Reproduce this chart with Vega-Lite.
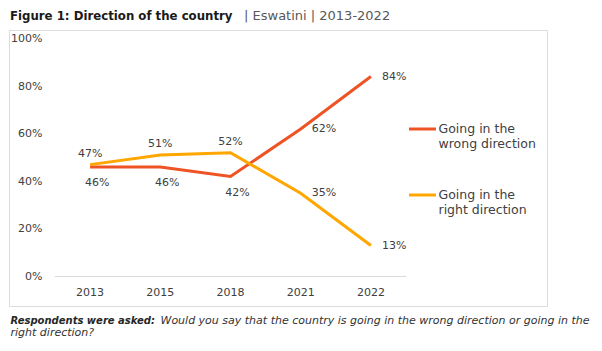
{
  "$schema": "https://vega.github.io/schema/vega-lite/v6.json",
  "width": 538,
  "height": 276,
  "autosize": {"type": "none"},
  "padding": {"left": 9, "top": 30, "right": 55, "bottom": 45},
  "background": "white",
  "config": {
    "font": "DejaVu Sans",
    "view": {"stroke": "#dcdcdc", "strokeWidth": 1}
  },
  "title": {
    "text": "Figure 1: Direction of the country",
    "anchor": "start",
    "frame": "group",
    "orient": "top",
    "offset": -22.3,
    "baseline": "alphabetic",
    "dx": 1,
    "font": "DejaVu Sans",
    "fontSize": 11.75,
    "fontWeight": "bold",
    "color": "#1a1a1a"
  },
  "data": {
    "values": [
      {"year": "2013", "series": "Going in the wrong direction", "value": 0.46},
      {"year": "2015", "series": "Going in the wrong direction", "value": 0.46},
      {"year": "2018", "series": "Going in the wrong direction", "value": 0.42},
      {"year": "2021", "series": "Going in the wrong direction", "value": 0.62},
      {"year": "2022", "series": "Going in the wrong direction", "value": 0.84},
      {"year": "2013", "series": "Going in the right direction", "value": 0.47},
      {"year": "2015", "series": "Going in the right direction", "value": 0.51},
      {"year": "2018", "series": "Going in the right direction", "value": 0.52},
      {"year": "2021", "series": "Going in the right direction", "value": 0.35},
      {"year": "2022", "series": "Going in the right direction", "value": 0.13}
    ]
  },
  "layer": [
    {
      "transform": [{"filter": "datum.series == 'Going in the wrong direction'"}],
      "mark": {"type": "bar", "fill": null, "stroke": "#d9d9d9", "strokeWidth": 1},
      "encoding": {
        "x": {
          "field": "year",
          "type": "ordinal",
          "scale": {"type": "band", "paddingInner": 0, "paddingOuter": 0, "range": [46, 397]},
          "axis": {
            "orient": "top",
            "labels": false,
            "ticks": false,
            "domain": false,
            "grid": false,
            "title": "right direction?",
            "titleX": 1,
            "titleY": 305.7,
            "titleAlign": "left",
            "titleBaseline": "alphabetic",
            "titleAngle": 0,
            "titleFontSize": 11,
            "titleFontStyle": "italic",
            "titleFontWeight": "normal",
            "titleColor": "#333333"
          }
        },
        "y": {"datum": 0, "type": "quantitative", "axis": null, "scale": {"domain": [-0.124, 1.0357], "nice": false, "zero": false}},
        "y2": {"datum": 0}
      }
    },
    {
      "mark": {"type": "line", "strokeWidth": 3},
      "encoding": {
        "x": {
          "field": "year",
          "type": "ordinal",
          "bandPosition": 0.5,
          "scale": {"type": "band", "paddingInner": 0, "paddingOuter": 0, "range": [46, 397]},
          "axis": {
            "orient": "bottom",
            "title": "Would you say that the country is going in the wrong direction or going in the",
            "offset": -29.5,
            "domain": false,
            "ticks": false,
            "grid": false,
            "labelAngle": 0,
            "labelPadding": 9.5,
            "labelFontSize": 11,
            "labelColor": "#404040",
            "titleX": 151,
            "titleY": 46.8,
            "titleAlign": "left",
            "titleBaseline": "alphabetic",
            "titleAngle": 0,
            "titleFontSize": 11,
            "titleFontStyle": "italic",
            "titleFontWeight": "normal",
            "titleColor": "#333333"
          }
        },
        "y": {
          "field": "value",
          "type": "quantitative",
          "scale": {"domain": [-0.124, 1.0357], "nice": false, "zero": false},
          "axis": {
            "orient": "left",
            "offset": -35,
            "values": [0, 0.2, 0.4, 0.6, 0.8, 1],
            "format": ".0%",
            "domain": false,
            "ticks": false,
            "grid": false,
            "labelPadding": 2,
            "labelFontSize": 11,
            "labelColor": "#404040",
            "labelBaseline": "middle",
            "title": "| Eswatini | 2013-2022",
            "titleAngle": 0,
            "titleAlign": "left",
            "titleBaseline": "alphabetic",
            "titleX": 199.5,
            "titleY": -11,
            "titleFontSize": 13,
            "titleFontWeight": "normal",
            "titleColor": "#595959"
          }
        },
        "color": {
          "field": "series",
          "type": "nominal",
          "scale": {
            "domain": ["Going in the wrong direction", "Going in the right direction"],
            "range": ["#EE5324", "#FFA600"]
          },
          "legend": {
            "orient": "none",
            "legendX": 398.5,
            "legendY": 84,
            "title": null,
            "padding": 0,
            "symbolType": "stroke",
            "symbolSize": 729,
            "symbolStrokeWidth": 3,
            "labelFontSize": 12.5,
            "labelColor": "#404040",
            "labelOffset": 1,
            "labelBaseline": "middle",
            "labelLimit": 300,
            "rowPadding": 30,
            "labelExpr": "datum.label == 'Going in the wrong direction' ? ['Going in the', 'wrong direction'] : ['Going in the', 'right direction']"
          }
        }
      }
    },
    {
      "transform": [{"filter": "datum.series == 'Going in the right direction' && indexof(['2013','2015','2018'], datum.year) >= 0"}],
      "mark": {"type": "text", "fontSize": 11, "color": "#404040", "dy": -11, "baseline": "middle"},
      "encoding": {
        "x": {"field": "year", "type": "ordinal", "bandPosition": 0.5, "axis": null, "scale": {"type": "band", "paddingInner": 0, "paddingOuter": 0, "range": [46, 397]}},
        "y": {"field": "value", "type": "quantitative", "axis": null, "scale": {"domain": [-0.124, 1.0357], "nice": false, "zero": false}},
        "text": {"field": "value", "type": "quantitative", "format": ".0%"}
      }
    },
    {
      "transform": [{"filter": "datum.series == 'Going in the wrong direction' && indexof(['2013','2015','2018'], datum.year) >= 0"}],
      "mark": {"type": "text", "fontSize": 11, "color": "#404040", "dy": 16, "dx": 7, "baseline": "middle"},
      "encoding": {
        "x": {"field": "year", "type": "ordinal", "bandPosition": 0.5, "axis": null, "scale": {"type": "band", "paddingInner": 0, "paddingOuter": 0, "range": [46, 397]}},
        "y": {"field": "value", "type": "quantitative", "axis": null, "scale": {"domain": [-0.124, 1.0357], "nice": false, "zero": false}},
        "text": {"field": "value", "type": "quantitative", "format": ".0%"}
      }
    },
    {
      "transform": [{"filter": "indexof(['2021','2022'], datum.year) >= 0"}],
      "mark": {"type": "text", "fontSize": 11, "color": "#404040", "dx": 11, "align": "left", "baseline": "middle"},
      "encoding": {
        "x": {"field": "year", "type": "ordinal", "bandPosition": 0.5, "axis": null, "scale": {"type": "band", "paddingInner": 0, "paddingOuter": 0, "range": [46, 397]}},
        "y": {
          "field": "value",
          "type": "quantitative",
          "scale": {"domain": [-0.124, 1.0357], "nice": false, "zero": false},
          "axis": {
            "orient": "right",
            "labels": false,
            "ticks": false,
            "domain": false,
            "grid": false,
            "title": "Respondents were asked:",
            "titleAngle": 0,
            "titleAlign": "left",
            "titleBaseline": "alphabetic",
            "titleX": -537,
            "titleY": 293.3,
            "titleFontSize": 10,
            "titleFontWeight": "bold",
            "titleFontStyle": "italic",
            "titleColor": "#262626"
          }
        },
        "text": {"field": "value", "type": "quantitative", "format": ".0%"}
      }
    }
  ],
  "resolve": {"axis": {"x": "independent", "y": "independent"}}
}
